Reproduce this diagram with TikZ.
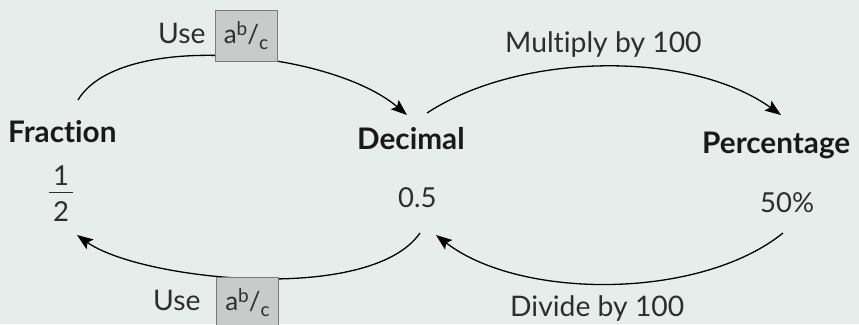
\documentclass[tikz,border=0pt]{standalone}
\usepackage{fontspec}
\setmainfont{Lato}[Ligatures={NoCommon}]
\usetikzlibrary{arrows.meta}
\definecolor{bgc}{HTML}{E7EDEB}
\definecolor{keyfill}{HTML}{C9CACA}
\definecolor{keydraw}{HTML}{7C7C7C}
\definecolor{txt}{HTML}{2E2E2E}
\begin{document}
\begin{tikzpicture}[x=1pt,y=-1pt,
  head/.style={inner sep=0pt,anchor=base west,font=\fontsize{29.7}{32}\selectfont\bfseries,text=black!90},
  val/.style={inner sep=0pt,anchor=base west,font=\fontsize{27.5}{30}\selectfont,text=txt},
  lbl/.style={inner sep=0pt,anchor=base west,font=\fontsize{28.3}{30}\selectfont,text=txt},
  keybox/.style={draw=keydraw,fill=keyfill,line width=0.8pt,minimum width=62pt,minimum height=51pt,inner sep=0pt,font=\fontsize{26}{30}\selectfont,text=txt},
  conn/.style={line width=1.3pt,-{Stealth[length=16pt,width=12pt,inset=3pt]}}]
\useasboundingbox (0,0) rectangle (859,324);
\clip (0,0) rectangle (859,324);
\fill[bgc] (0,0) rectangle (859,324);

% headings and values
\node[head] (frac) at (8,142) {Fraction};
\node[head] (dec) at (357,149) {Decimal};
\node[head] (pct) at (702,153) {Percentage};
\node[val,anchor=base] (num) at (61,185) {1};
\node[val,anchor=base] (den) at (61,221) {2};
\draw[line width=1pt,txt] (49,192) -- (73,192);
\node[val] (decval) at (398,207) {0.5};
\node[val] (pctval) at (760,212) {50\%};

% connector end points
\coordinate (a1s) at (78,100);
\coordinate (a1e) at (407,115);
\coordinate (a2s) at (427,113);
\coordinate (a2e) at (781,115);
\coordinate (a3s) at (783,233);
\coordinate (a3e) at (436,235);
\coordinate (a4s) at (420,233);
\coordinate (a4e) at (77,235);

\draw[conn] (a1s) .. controls (120,30) and (330,50) .. (a1e);
\draw[conn] (a2s) .. controls (520,52) and (690,50) .. (a2e);
\draw[conn] (a3s) .. controls (700,300) and (520,300) .. (a3e);
\draw[conn] (a4s) .. controls (370,305) and (140,280) .. (a4e);

% labels
\node[lbl] (mul) at (505,52) {Multiply by 100};
\node[lbl] (div) at (510,316) {Divide by 100};
\node[lbl] (use1) at (158,43) {Use};
\node[keybox] (key1) at (246,35.5) {a\raisebox{0.55ex}{\fontsize{19}{20}\selectfont b}/\raisebox{-0.45ex}{\fontsize{19}{20}\selectfont c}};
\node[lbl] (use2) at (153,310) {Use};
\node[keybox] (key2) at (247.5,302.5) {a\raisebox{0.55ex}{\fontsize{19}{20}\selectfont b}/\raisebox{-0.45ex}{\fontsize{19}{20}\selectfont c}};
\end{tikzpicture}
\end{document}
